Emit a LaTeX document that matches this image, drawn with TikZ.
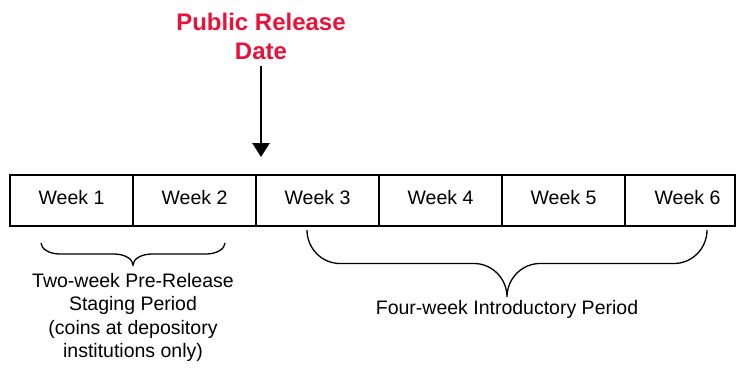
\documentclass[tikz,border=0pt]{standalone}
\usepackage{fontspec}
\setmainfont{Liberation Sans}
\usepackage{xcolor}
\usepackage{tikz}
\usetikzlibrary{positioning, calc}
\usetikzlibrary{arrows.meta}
\tikzset{
	week/.style={draw, line width=1.2pt, minimum width=123pt, minimum height=51pt, inner sep=0pt,
		text height=14pt, text depth=7pt, font=\fontsize{19.5}{23.5}\selectfont},
	period/.style={align=center, inner sep=0pt, font=\fontsize{19.5}{23.5}\selectfont},
	bracepath/.style={line width=1.3pt},
}
\definecolor{ReleaseRed}{RGB}{232, 19, 58}
% brace: tip name, x from, x to, y, half depth, curve width
\newcommand{\weekbrace}[6]{%
	\pgfmathsetmacro{\bmid}{(#2+#3)/2}
	\draw[bracepath] (#2,#4) .. controls +(0,0.55*#5) and +(-0.55*#6,0) .. ({#2+#6},{#4+#5})
		-- ({\bmid-#6},{#4+#5}) .. controls +(0.55*#6,0) and +(0,-0.55*#5) .. (\bmid,{#4+2*#5}) coordinate (#1)
		.. controls +(0,-0.55*#5) and +(-0.55*#6,0) .. ({\bmid+#6},{#4+#5})
		-- ({#3-#6},{#4+#5}) .. controls +(0.55*#6,0) and +(0,0.55*#5) .. (#3,#4);
}

\begin{document}
\begin{tikzpicture}[x=1pt, y=-1pt]
\useasboundingbox (0,0) rectangle (738,367);

\foreach \i/\cx in {1/71.5, 2/194.5, 3/317.5, 4/440.5, 5/563.5}
	\node[week] (w\i) at (\cx,200.5) {Week \i};
\node[week, minimum width=110pt] (w6) at (680,200.5) {\hspace*{15pt}Week 6};

\node[font=\fontsize{24}{29}\selectfont\bfseries, text=ReleaseRed, align=center, inner sep=0pt] (release) at (261,36) {Public Release\\Date};
\coordinate (dayone) at (261,157);
\draw[-{Triangle[width=17pt,length=14pt]}, line width=2.5pt, shorten <=6pt] (release) -- (dayone);

\weekbrace{twotip}{41}{225}{243}{11}{19}
\weekbrace{fourtip}{307}{707}{230}{33.5}{33}

\node[period, below=8pt of twotip] (staging) {Two-week Pre-Release\\Staging Period\\(coins at depository\\institutions only)};
\node[period, below=3pt of fourtip] (intro) {Four-week Introductory Period};

\end{tikzpicture}
\end{document}
